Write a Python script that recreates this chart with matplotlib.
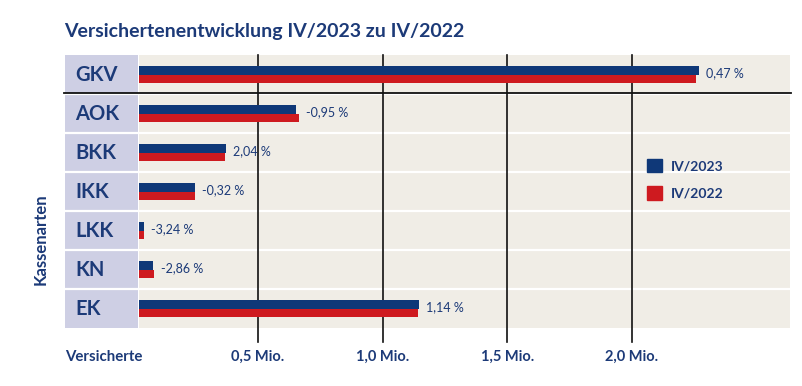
import matplotlib.pyplot as plt
from matplotlib.patches import Patch
from matplotlib.lines import Line2D

# data (Mio. Versicherte)
kassen = ['GKV', 'AOK', 'BKK', 'IKK', 'LKK', 'KN', 'EK']
iv_2023 = [2.268, 0.652, 0.372, 0.248, 0.043, 0.079, 1.146]
iv_2022 = [2.257, 0.665, 0.368, 0.249, 0.044, 0.083, 1.141]
veraenderung = ['0,47 %', '-0,95 %', '2,04 %', '-0,32 %', '-3,24 %', '-2,86 %', '1,14 %']
ticks = [0.5, 1.0, 1.5, 2.0]
tick_labels = ['0,5 Mio.', '1,0 Mio.', '1,5 Mio.', '2,0 Mio.']

dunkelblau = '#1c3a78'
blau = '#0f3878'
rot = '#ce1a1f'
beige = '#f0ede6'
lavendel = '#cecfe4'

plt.rcParams['font.family'] = ['Lato', 'DejaVu Sans']

W, H = 803, 386
fig = plt.figure(figsize=(W / 100, H / 100), dpi=100)

def box(x0, y0, x1, y1):
    # pixel box (top-left origin) -> figure fractions
    return [x0 / W, 1 - y1 / H, (x1 - x0) / W, (y1 - y0) / H]

ax_lab = fig.add_axes(box(65, 55, 137.5, 328))
ax = fig.add_axes(box(139.5, 55, 790, 328))

n = len(kassen)
for a in (ax_lab, ax):
    a.set_ylim(n - 0.5, -0.5)
    for s in a.spines.values():
        s.set_visible(False)
    a.tick_params(left=False, bottom=False, labelleft=False, labelbottom=False)
    for i in range(n - 1):
        a.axhline(i + 0.5, color='white', lw=1.6)

ax_lab.set_facecolor(lavendel)
ax_lab.set_xlim(0, 1)
for i, k in enumerate(kassen):
    ax_lab.text(0.14, i + 0.02, k, fontsize=14.5, fontweight='bold', color=dunkelblau,
                va='center', ha='left')

ax.set_facecolor(beige)
ax.set_xlim(0.025, 2.634)
h = 0.21
pos = list(range(n))
ax.barh([p - h / 2 for p in pos], iv_2023, height=h, color=blau, label='IV/2023', zorder=3)
ax.barh([p + h / 2 for p in pos], iv_2022, height=h, color=rot, label='IV/2022', zorder=3)

for t, lab in zip(ticks, tick_labels):
    ax.axvline(t, ymin=-0.052, ymax=1, color='#111111', lw=1.2, clip_on=False, zorder=2)
    ax.text(t, -0.105, lab, transform=ax.get_xaxis_transform(), ha='center', va='center',
            fontsize=10.5, fontweight='bold', color=dunkelblau)

for i, txt in enumerate(veraenderung):
    x = max(iv_2023[i], iv_2022[i])
    ax.annotate(txt, (x, i - 0.03), xytext=(5, 0), textcoords='offset points',
                va='center', ha='left', fontsize=9, color=dunkelblau, zorder=4)

# black line below GKV over both columns
fig.add_artist(Line2D([64 / W, 791 / W], [1 - 93.3 / H] * 2, color='#111111', lw=1.3))

handles = [Patch(color=blau), Patch(color=rot)]
leg = ax.legend(handles, ['IV/2023', 'IV/2022'], loc='upper left',
                bbox_to_anchor=((647 - 139) / 651, (328 - 159) / 273),
                frameon=False, borderpad=0, borderaxespad=0,
                handlelength=1.1, handleheight=1.1, handletextpad=0.6,
                labelspacing=1.0, prop={'size': 10, 'weight': 'bold'})
for t in leg.get_texts():
    t.set_color(dunkelblau)

fig.text(64 / W, 1 - 36.7 / H, 'Versichertenentwicklung IV/2023 zu IV/2022',
         fontsize=14, fontweight='bold', color=dunkelblau, va='baseline', ha='left')
fig.text(65 / W, 1 - 356.7 / H, 'Versicherte', fontsize=10.8, fontweight='bold',
         color=dunkelblau, va='center', ha='left')
fig.text(41 / W, 1 - 239 / H, 'Kassenarten', fontsize=12, fontweight='bold',
         color=dunkelblau, va='center', ha='center', rotation=90)

fig.savefig('out.png', dpi=100, facecolor='white')
